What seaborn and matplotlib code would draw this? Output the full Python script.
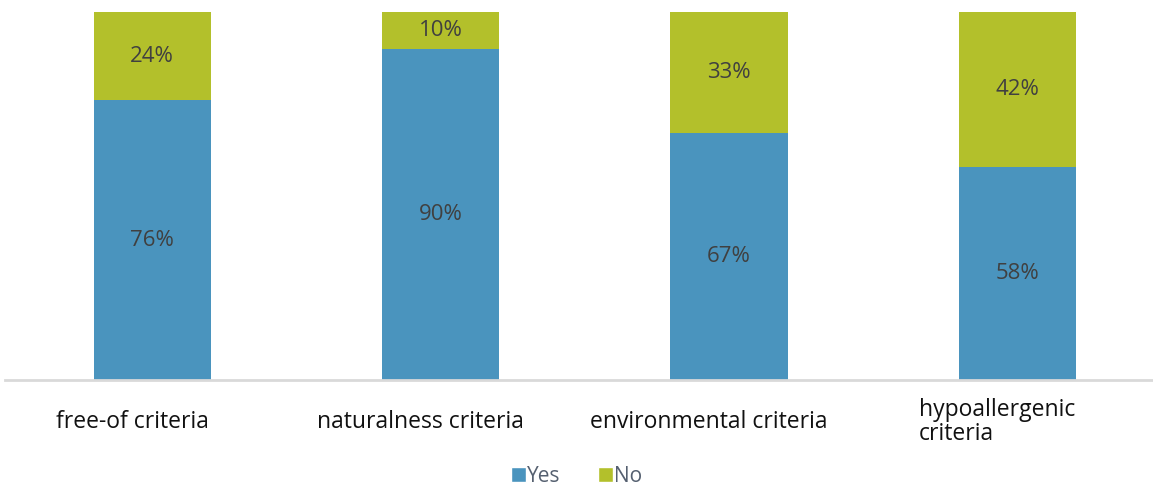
import matplotlib
matplotlib.use("Agg")
import matplotlib.pyplot as plt
import matplotlib.transforms as mtransforms
import seaborn as sns
import pandas as pd
from matplotlib.patches import Patch

categories = ["free-of criteria", "naturalness criteria", "environmental criteria",
              "hypoallergenic\ncriteria"]
yes = [76, 90, 67, 58]
no = [24, 10, 33, 42]

blue = "#4A94BE"
green = "#B3C02B"

df = pd.DataFrame({"category": categories, "Yes": yes, "No": no})
df["total"] = df["Yes"] + df["No"]

sns.set_theme(style="white")
plt.rcParams["font.family"] = ["Open Sans", "DejaVu Sans"]

fig = plt.figure(figsize=(11.53, 4.86), dpi=100)
ax = fig.add_axes([5 / 1153, 106 / 486, 1148 / 1153, 368 / 486])

# stacked bars: full height in green, Yes share in blue on top of it
sns.barplot(data=df, x="category", y="total", color=green, width=0.406,
            saturation=1, linewidth=0, ax=ax)
sns.barplot(data=df, x="category", y="Yes", color=blue, width=0.406,
            saturation=1, linewidth=0, ax=ax)

for i, (y_val, n_val) in enumerate(zip(yes, no)):
    ax.text(i, y_val / 2, f"{y_val}%", ha="center", va="center",
            fontsize=16, color="#404040")
    ax.text(i, y_val + n_val / 2, f"{n_val}%", ha="center", va="center",
            fontsize=16, color="#404040")

ax.set_xlim(-0.51, 3.47)
ax.set_ylim(0, 100)
ax.set_xlabel("")
ax.set_ylabel("")
ax.set_yticks([])
ax.tick_params(axis="x", length=0, pad=30, labelsize=16.5, labelcolor="#111111")
shift = mtransforms.ScaledTranslation(-0.2, 0, fig.dpi_scale_trans)
for lab in ax.get_xticklabels():
    lab.set_va("center")
    lab.set_multialignment("left")
    lab.set_linespacing(1.0)
    lab.set_transform(lab.get_transform() + shift)

for s in ["top", "right", "left"]:
    ax.spines[s].set_visible(False)
ax.spines["bottom"].set_color("#D9D9D9")
ax.spines["bottom"].set_linewidth(2)

handles = [Patch(facecolor=blue, label="Yes"), Patch(facecolor=green, label="No")]
fig.legend(handles=handles, loc="center", bbox_to_anchor=(0.5, 1 - 476 / 486),
           ncol=2, frameon=False, fontsize=15, handlelength=0.7, handleheight=0.7,
           handletextpad=0.05, columnspacing=1.8, labelcolor="#556070")

fig.savefig("out.png", dpi=100)
